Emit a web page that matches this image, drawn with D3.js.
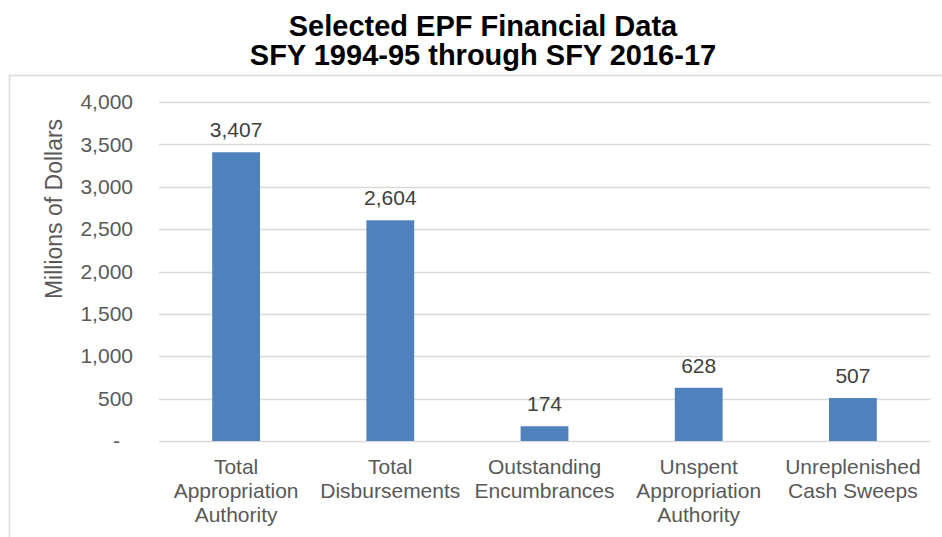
<!DOCTYPE html>
<html><head><meta charset="utf-8">
<script src="https://cdn.jsdelivr.net/npm/d3@7"></script>
<style>body{margin:0;background:#fff;} svg{display:block;font-family:"Liberation Sans",Arial,sans-serif;}</style>
</head><body>
<svg id="c" width="942" height="537"></svg>
<script>
const categories = [
  ["Total","Appropriation","Authority"],
  ["Total","Disbursements"],
  ["Outstanding","Encumbrances"],
  ["Unspent","Appropriation","Authority"],
  ["Unreplenished","Cash Sweeps"]
];
const values = [3407, 2604, 174, 628, 507];
const tickValues = [0, 500, 1000, 1500, 2000, 2500, 3000, 3500, 4000];
const titleLines = ["Selected EPF Financial Data", "SFY 1994-95 through SFY 2016-17"];
const yTitle = "Millions of Dollars";

(function () {
const svg = d3.select("#c");
const fmt = d3.format(",");
const pLeft = 159, pRight = 930, pTop = 102, pBottom = 441;

// outer border
svg.append("rect").attr("x", 9.5).attr("y", 75.5).attr("width", 1000).attr("height", 600)
  .attr("fill", "none").attr("stroke", "#D9D9D9").attr("stroke-width", 1.5);

// title
svg.append("g").selectAll("text").data(titleLines).join("text")
  .attr("x", 483).attr("y", (d, i) => 36 + i * 29)
  .attr("text-anchor", "middle").attr("font-weight", "bold").attr("font-size", 29)
  .attr("fill", "#000").text(d => d);

const x = d3.scaleBand().domain(d3.range(values.length)).range([pLeft, pRight])
  .paddingInner(0.69).paddingOuter(0.345);
const y = d3.scaleLinear().domain([0, 4000]).range([pBottom, pTop]);

// gridlines
svg.append("g").selectAll("line").data(tickValues).join("line")
  .attr("x1", pLeft).attr("x2", pRight)
  .attr("y1", d => Math.round(y(d)) + 0.5).attr("y2", d => Math.round(y(d)) + 0.5)
  .attr("stroke", "#D9D9D9").attr("stroke-width", 1.3);

// y axis labels
const yAxis = d3.axisLeft(y).tickValues(tickValues).tickSize(0).tickPadding(0)
  .tickFormat(d => d === 0 ? "-" : fmt(d));
const ya = svg.append("g").attr("transform", `translate(133,0)`).call(yAxis);
ya.select(".domain").remove();
ya.selectAll("text").attr("font-size", 21).attr("fill", "#595959")
  .attr("font-family", "Liberation Sans, Arial, sans-serif")
  .attr("dx", d => d === 0 ? -13 : 0);

// y title
svg.append("text").attr("transform", "translate(54,209) rotate(-90)")
  .attr("text-anchor", "middle").attr("dy", "0.35em")
  .attr("font-size", 23).attr("fill", "#595959").text(yTitle);

// bars
svg.append("g").selectAll("rect").data(values).join("rect")
  .attr("x", (d, i) => x(i)).attr("width", x.bandwidth())
  .attr("y", d => y(d)).attr("height", d => y(0) - y(d))
  .attr("fill", "#4F81BD");

// data labels
svg.append("g").selectAll("text").data(values).join("text")
  .attr("x", (d, i) => x(i) + x.bandwidth() / 2).attr("y", d => y(d) - 15)
  .attr("text-anchor", "middle").attr("font-size", 21).attr("fill", "#404040")
  .text(d => fmt(d));

// category labels
const cg = svg.append("g").selectAll("text").data(categories).join("text")
  .attr("text-anchor", "middle").attr("font-size", 21).attr("fill", "#595959");
cg.selectAll("tspan").data((d, i) => d.map(t => ({t, i}))).join("tspan")
  .attr("x", d => x(d.i) + x.bandwidth() / 2)
  .attr("y", (d, j) => 474 + j * 24).text(d => d.t);
})();
</script>
</body></html>
